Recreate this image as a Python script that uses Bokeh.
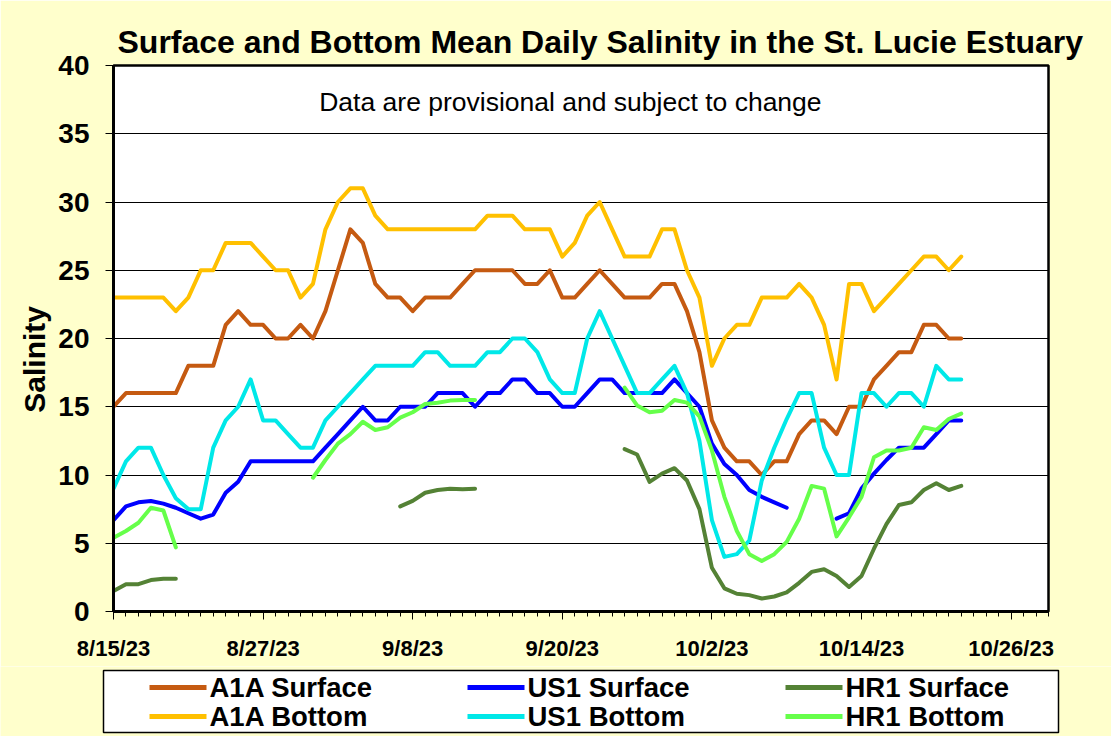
import numpy as np
from bokeh.plotting import figure
from bokeh.models import Range1d, FixedTicker, Label, ColumnDataSource
from bokeh.layouts import column
from bokeh.embed import file_html
from bokeh.resources import INLINE
from bokeh.core.properties import value

nan = float("nan")

# ---------------- data (day 0 = 8/15/23) ----------------
start_date = "2023-08-15"
days = list(range(69))

a1a_surface = [15, 16, 16, 16, 16, 16, 18, 18, 18, 21,
               22, 21, 21, 20, 20, 21, 20, 22, 25, 28,
               27, 24, 23, 23, 22, 23, 23, 23, 24, 25,
               25, 25, 25, 24, 24, 25, 23, 23, 24, 25,
               24, 23, 23, 23, 24, 24, 22, 19, 14, 12,
               11, 11, 10, 11, 11, 13, 14, 14, 13, 15,
               15, 17, 18, 19, 19, 21, 21, 20, 20]
a1a_bottom = [23, 23, 23, 23, 23, 22, 23, 25, 25, 27,
              27, 27, 26, 25, 25, 23, 24, 28, 30, 31,
              31, 29, 28, 28, 28, 28, 28, 28, 28, 28,
              29, 29, 29, 28, 28, 28, 26, 27, 29, 30,
              28, 26, 26, 26, 28, 28, 25, 23, 18, 20,
              21, 21, 23, 23, 23, 24, 23, 21, 17, 24,
              24, 22, 23, 24, 25, 26, 26, 25, 26]
us1_surface = [6.7, 7.7, 8.0, 8.1, 7.9, 7.6, 7.2, 6.8, 7.1, 8.7,
               9.5, 11, 11, 11, 11, 11, 11, 12, 13, 14,
               15, 14, 14, 15, 15, 15, 16, 16, 16, 15,
               16, 16, 17, 17, 16, 16, 15, 15, 16, 17,
               17, 16, 16, 16, 16, 17, 16, 15, 12.3, 10.8,
               10, 8.9, 8.4, 8.0, 7.6, nan, nan, nan, 6.8, 7.2,
               9.0, 10.1, 11.1, 12, 12, 12, 13, 14, 14]
us1_bottom = [9, 11, 12, 12, 10, 8.3, 7.5, 7.5, 12, 14,
              15, 17, 14, 14, 13, 12, 12, 14, 15, 16,
              17, 18, 18, 18, 18, 19, 19, 18, 18, 18,
              19, 19, 20, 20, 19, 17, 16, 16, 20, 22,
              20, 18, 16, 16, 17, 18, 16, 12.5, 6.7, 4.0,
              4.2, 5.2, 9.6, 12, 14.1, 16, 16, 12, 10, 10,
              16, 16, 15, 16, 16, 15, 18, 17, 17]
hr1_surface = [1.5, 2.0, 2.0, 2.3, 2.4, 2.4, nan, nan, nan, nan,
               nan, nan, nan, nan, nan, nan, nan, nan, nan, nan,
               nan, nan, nan, 7.7, 8.1, 8.7, 8.9, 9.0, 8.95, 9.0,
               nan, nan, nan, nan, nan, nan, nan, nan, nan, nan,
               nan, 11.9, 11.5, 9.5, 10.1, 10.5, 9.6, 7.5, 3.2, 1.7,
               1.3, 1.2, 0.95, 1.1, 1.4, 2.1, 2.9, 3.1, 2.6, 1.8,
               2.6, 4.6, 6.4, 7.8, 8.0, 8.9, 9.4, 8.9, 9.2]
hr1_bottom = [5.4, 5.9, 6.5, 7.6, 7.4, 4.7, nan, nan, nan, nan,
              nan, nan, nan, nan, nan, nan, 9.8, 11.1, 12.3, 13.0,
              13.9, 13.3, 13.5, 14.2, 14.6, 15.2, 15.3, 15.45, 15.5, 15.5,
              nan, nan, nan, nan, nan, nan, nan, nan, nan, nan,
              nan, 16.4, 15.1, 14.6, 14.7, 15.5, 15.3, 14.3, 11.8, 8.4,
              5.9, 4.2, 3.7, 4.2, 5.1, 6.8, 9.2, 9.0, 5.5, 6.9,
              8.4, 11.3, 11.8, 11.8, 12.0, 13.5, 13.3, 14.1, 14.5]

series_names = ["A1A Surface", "A1A Bottom", "US1 Surface",
                "US1 Bottom", "HR1 Surface", "HR1 Bottom"]
series_values = [a1a_surface, a1a_bottom, us1_surface,
                 us1_bottom, hr1_surface, hr1_bottom]
series_colors = ["#C55A11", "#FFC000", "#0000FF",
                 "#00E8E8", "#548235", "#66FF4A"]

tick_days = [0, 12, 24, 36, 48, 60, 72]
tick_labels = ["8/15/23", "8/27/23", "9/8/23", "9/20/23",
               "10/2/23", "10/14/23", "10/26/23"]
y_ticks = [0, 5, 10, 15, 20, 25, 30, 35, 40]

title_text = "Surface and Bottom Mean Daily Salinity in the St. Lucie Estuary"
note_text = "Data are provisional and subject to change"
y_title = "Salinity"

FONT = "Liberation Sans"
BG = "#FFFFCC"
W = 1111
MAIN_H = 666
LEG_H = 70

# ---------------- main chart ----------------
p = figure(width=W, height=MAIN_H, output_backend="svg", toolbar_location=None,
           x_range=Range1d(0, 75), y_range=Range1d(0, 40),
           min_border_left=113, min_border_right=63,
           min_border_top=65, min_border_bottom=55,
           background_fill_color="white", border_fill_color=BG,
           outline_line_color="black", outline_line_width=2.5)
p.frame_align = False

p.title.text = title_text
p.title.text_font = FONT
p.title.text_font_size = "32px"
p.title.text_font_style = "bold"
p.title.text_color = "black"
p.title.align = "left"
p.title.offset = 4
p.title.standoff = 12

# x axis
p.xaxis.ticker = FixedTicker(ticks=tick_days, minor_ticks=list(range(0, 76)))
p.xaxis.major_label_overrides = {d: l for d, l in zip(tick_days, tick_labels)}
p.xaxis.major_tick_out = 8
p.xaxis.major_tick_in = 0
p.xaxis.minor_tick_out = 5
p.xaxis.minor_tick_in = 0
p.xaxis.axis_line_width = 3
p.xaxis.major_tick_line_color = "black"
p.xaxis.minor_tick_line_color = "black"
p.xaxis.major_label_text_font = FONT
p.xaxis.major_label_text_font_size = "22px"
p.xaxis.major_label_text_font_style = "bold"
p.xaxis.major_label_text_color = "black"
p.xaxis.major_label_standoff = 16

# y axis
p.yaxis.ticker = FixedTicker(ticks=y_ticks, minor_ticks=[])
p.yaxis.major_tick_out = 8
p.yaxis.major_tick_in = 0
p.yaxis.minor_tick_out = 0
p.yaxis.minor_tick_in = 0
p.yaxis.axis_line_width = 3
p.yaxis.major_label_text_font = FONT
p.yaxis.major_label_text_font_size = "28px"
p.yaxis.major_label_text_font_style = "bold"
p.yaxis.major_label_text_color = "black"
p.yaxis.major_label_standoff = 16
p.yaxis.axis_label = y_title + "\u00a0" * 5
p.yaxis.axis_label_text_font = FONT
p.yaxis.axis_label_text_font_size = "30px"
p.yaxis.axis_label_text_font_style = "bold"
p.yaxis.axis_label_text_color = "black"
p.yaxis.axis_label_standoff = 4

p.xgrid.visible = False
p.ygrid.ticker = FixedTicker(ticks=y_ticks)
p.ygrid.grid_line_color = "black"
p.ygrid.grid_line_width = 1

for name, vals, color in zip(series_names, series_values, series_colors):
    src = ColumnDataSource(dict(x=np.array(days, dtype=float),
                                y=np.array(vals, dtype=float)))
    p.line("x", "y", source=src, line_color=color, line_width=4,
           line_cap="round", line_join="round")

p.add_layout(Label(x=36.65, y=37.3, text=note_text, text_font=FONT,
                   text_font_size="26.5px", text_align="center",
                   text_baseline="middle", text_color="black"))

# ---------------- legend panel ----------------
leg = figure(width=W, height=LEG_H, output_backend="svg", toolbar_location=None,
             x_range=Range1d(0, W), y_range=Range1d(LEG_H, 0),
             x_axis_type=None, y_axis_type=None, min_border=0,
             background_fill_color=BG, border_fill_color=BG,
             outline_line_color=None)
leg.frame_align = False
leg.grid.visible = False
leg.quad(left=103, right=1058, top=4, bottom=66, fill_color="white",
         line_color="black", line_width=1.5)

cols = [k // 2 for k in range(6)]
rows = [k % 2 for k in range(6)]
gx0 = [149 + c * 318 for c in cols]
gx1 = [g + 57 for g in gx0]
tx = [209 + c * 318 for c in cols]
ry = [21 + r * 29 for r in rows]
lsrc = ColumnDataSource(dict(x0=gx0, x1=gx1, tx=tx, y=ry,
                             color=series_colors, name=series_names))
leg.segment(x0="x0", y0="y", x1="x1", y1="y", source=lsrc,
            line_color="color", line_width=5)
leg.text(x="tx", y="y", text="name", source=lsrc, text_font=value(FONT),
         text_font_size="27.5px", text_font_style="bold",
         text_baseline="middle", text_color="black")

layout = column(p, leg, spacing=0)
open("out.html", "w").write(file_html(layout, INLINE))
